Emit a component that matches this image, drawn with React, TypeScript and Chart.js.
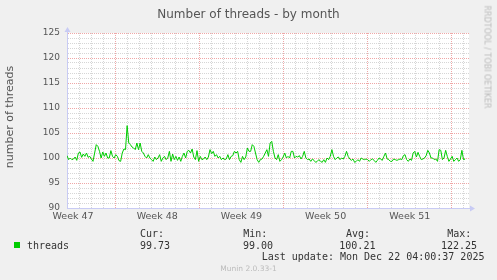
import React, { useEffect, useRef } from "react";
import { Chart, registerables } from "chart.js";

Chart.register(...registerables);

const TITLE = "Number of threads - by month";
const Y_TITLE = "number of threads";
const WATERMARK = "RRDTOOL / TOBI OETIKER";
const FOOTER = "Munin 2.0.33-1";
const LAST_UPDATE = "Last update: Mon Dec 22 04:00:37 2025";
const SERIES_NAME = "threads";

const WEEK_LABELS = ["Week 47", "Week 48", "Week 49", "Week 50", "Week 51"];
const WEEK_LABEL_DAYS = [0.5, 7.5, 14.5, 21.5, 28.5];
const WEEK_GRID_DAYS = [4, 11, 18, 25, 32];
const X_SPAN_DAYS = 33.42;
const DATA_SPAN_DAYS = 33.1;

const Y_MIN = 90;
const Y_MAX = 125;
const Y_MAJOR = 5;

const STAT_LABELS = ["Cur:", "Min:", "Avg:", "Max:"];
const STAT_VALUES = ["99.73", "99.00", "100.21", "122.25"];

// threads, sampled at a regular interval across the month
const threads = [
  100.47, 99.67, 100, 99.67, 99.8, 100.2, 99.53, 101, 101.2, 100.13,
  100.8, 100.33, 101, 100.13, 100.33, 99.8, 99.33, 101, 102.67, 102.33,
  101.33, 100, 101.2, 100.33, 101, 100, 100, 101.47, 100.33, 100,
  100.67, 100.33, 99.47, 99.33, 101, 101.8, 101.67, 106.47, 103, 102.67,
  102.2, 102, 101.67, 103, 101.67, 103, 101.33, 101, 100.33, 100,
  100.67, 100, 99.67, 99.33, 100.2, 99.67, 100, 100.67, 99.33, 100,
  100.33, 99.67, 100, 101.33, 99.33, 100.8, 99.67, 100.33, 99.53, 100.2,
  99.33, 100.33, 101, 100, 101.33, 101.53, 101, 101.8, 100.2, 99.67,
  101.47, 99.33, 100.33, 99.67, 99.8, 100.2, 99.67, 100.2, 101.67, 100.87,
  101.33, 100.33, 100.67, 100, 100.33, 99.67, 100, 99.67, 99.8, 100.67,
  99.67, 100.33, 100.47, 101.33, 101, 101.33, 99.67, 99.13, 100.33, 99.67,
  100.2, 102, 101.33,
  101.33, 102.67, 102.33, 101, 99.67, 99.13, 99.67, 99.8, 100.33, 101,
  101.67, 100.33, 103, 103.33, 101.33, 100, 99.67, 100.67, 99.33, 99.67,
  100.2, 101, 100, 100.33, 100, 101.33, 101.33, 100, 100.33, 100.2,
  100.47, 99.8, 100.33, 101.33, 100, 99.67, 99.8, 99.33, 99.8, 99.53,
  99.13, 99.33, 99.67, 99.33, 99.13, 99.67, 99.13, 100, 99.67, 100.33,
  101.67, 100.33, 99.67, 100, 100.2, 99.67, 100, 99.8, 100.33, 101.33,
  100.33, 99.8, 99.53, 99.8, 99.13, 99.33, 99.67, 99.33, 100, 99.8,
  99.67, 99.8, 99.67, 99.33, 99.67, 99.8, 99.53, 99.13, 99.53, 100,
  99.8, 99.53, 100.33, 101, 99.8, 99.67, 99.33, 99.33, 99.8, 99.67,
  99.53, 99.67, 99.8, 99.67, 100.47, 100.67, 99.67, 99.33, 99.8, 99.53,
  101, 101.33, 100.2, 101.13, 100.33, 99.67, 99.8, 100, 100.47, 101.53,
  101, 100, 100, 99.67, 99.8, 99.33, 101.67, 101.53, 99.67, 100,
  101.53, 100.33, 99.33, 99.8, 100.33, 99.33, 99.67, 100, 99.33, 99.67,
  101.53, 99.67, 99.8,
];

const MINOR_GRID = "rgba(200,200,200,0.75)";
const MAJOR_GRID = "rgba(235,145,145,0.8)";
const AXIS_COLOR = "#c8cbf4";
const LINE_COLOR = "#00cc00";
const TEXT_COLOR = "#555555";
const PLOT_BG = "#ffffff";
const PAGE_BG = "#f0f0f0";

const xTicks = [
  ...Array.from({ length: Math.floor(X_SPAN_DAYS) + 1 }, (_, d) => d),
  ...WEEK_LABEL_DAYS,
].sort((a, b) => a - b);
const yTicks = Array.from({ length: Y_MAX - Y_MIN + 1 }, (_, i) => Y_MIN + i);

const plotPlugin = {
  id: "rrdDecor",
  beforeDraw(chart: any) {
    const { ctx, chartArea } = chart;
    ctx.save();
    ctx.fillStyle = PLOT_BG;
    ctx.fillRect(chartArea.left, chartArea.top, chartArea.right - chartArea.left, chartArea.bottom - chartArea.top);
    ctx.restore();
  },
  afterDraw(chart: any) {
    const { ctx, chartArea } = chart;
    const l = chartArea.left;
    const b = chartArea.bottom;
    ctx.save();
    ctx.strokeStyle = AXIS_COLOR;
    ctx.fillStyle = AXIS_COLOR;
    ctx.lineWidth = 1;
    ctx.beginPath();
    ctx.moveTo(l + 0.5, chartArea.top);
    ctx.lineTo(l + 0.5, chartArea.top - 4);
    ctx.moveTo(chartArea.right, b + 0.5);
    ctx.lineTo(chartArea.right + 3, b + 0.5);
    ctx.stroke();
    ctx.beginPath();
    ctx.moveTo(l - 2.5, chartArea.top - 1);
    ctx.lineTo(l + 3.5, chartArea.top - 1);
    ctx.lineTo(l + 0.5, chartArea.top - 6);
    ctx.closePath();
    ctx.fill();
    ctx.beginPath();
    ctx.moveTo(chartArea.right + 1, b - 2.5);
    ctx.lineTo(chartArea.right + 1, b + 3.5);
    ctx.lineTo(chartArea.right + 6, b + 0.5);
    ctx.closePath();
    ctx.fill();
    ctx.restore();
  },
};

function ChartCanvas() {
  const ref = useRef<HTMLCanvasElement | null>(null);
  useEffect(() => {
    if (!ref.current) return;
    const dt = DATA_SPAN_DAYS / (threads.length - 1);
    const chart = new Chart(ref.current, {
      type: "line",
      data: {
        datasets: [
          {
            label: SERIES_NAME,
            data: threads.map((v, i) => ({ x: i * dt, y: v })),
            borderColor: LINE_COLOR,
            borderWidth: 1,
            pointRadius: 0,
            tension: 0,
            fill: false,
          },
        ],
      },
      options: {
        animation: false,
        responsive: false,
        events: [],
        layout: { padding: { left: 0, top: 33, right: 28, bottom: 0 } },
        plugins: { legend: { display: false }, tooltip: { enabled: false }, title: { display: false } },
        scales: {
          x: {
            type: "linear",
            min: 0,
            max: X_SPAN_DAYS,
            afterBuildTicks: (scale: any) => {
              scale.ticks = xTicks.map((v) => ({ value: v }));
            },
            afterFit: (scale: any) => {
              scale.height = 72;
            },
            ticks: {
              autoSkip: false,
              maxRotation: 0,
              padding: 3,
              color: TEXT_COLOR,
              font: { family: "'DejaVu Sans'", size: 9.5 },
              callback: (value: any) => {
                const idx = WEEK_LABEL_DAYS.indexOf(Number(value));
                return idx >= 0 ? WEEK_LABELS[idx] : "";
              },
            },
            grid: {
              drawTicks: false,
              lineWidth: 1,
              color: (ctx: any) => {
                const v = ctx.tick ? ctx.tick.value : 0;
                if (WEEK_LABEL_DAYS.includes(v)) return "rgba(0,0,0,0)";
                if (WEEK_GRID_DAYS.includes(v)) return MAJOR_GRID;
                return MINOR_GRID;
              },
            },
            border: { display: true, color: AXIS_COLOR, width: 1, dash: [1, 1] },
          },
          y: {
            type: "linear",
            min: Y_MIN,
            max: Y_MAX,
            afterBuildTicks: (scale: any) => {
              scale.ticks = yTicks.map((v) => ({ value: v }));
            },
            afterFit: (scale: any) => {
              scale.width = 67;
            },
            ticks: {
              autoSkip: false,
              padding: 7,
              color: TEXT_COLOR,
              font: { family: "'DejaVu Sans'", size: 9 },
              callback: (value: any) => (Number(value) % Y_MAJOR === 0 ? String(value) : ""),
            },
            grid: {
              drawTicks: false,
              lineWidth: 1,
              color: (ctx: any) => {
                const v = ctx.tick ? ctx.tick.value : 0;
                return v % Y_MAJOR === 0 ? MAJOR_GRID : MINOR_GRID;
              },
            },
            border: { display: true, color: AXIS_COLOR, width: 1, dash: [1, 1] },
          },
        },
      },
      plugins: [plotPlugin],
    } as any);
    return () => chart.destroy();
  }, []);
  return (
    <canvas
      ref={ref}
      width={497}
      height={280}
      style={{ position: "absolute", left: 0, top: 0, width: 497, height: 280 }}
    />
  );
}

const mono = "'DejaVu Sans Mono', monospace";
const sans = "'DejaVu Sans', sans-serif";

function Txt(props: { left: number; top: number; size: number; family: string; color: string; children: any; style?: any }) {
  return (
    <div
      style={{
        position: "absolute",
        left: props.left,
        top: props.top,
        fontSize: props.size,
        lineHeight: `${props.size}px`,
        fontFamily: props.family,
        color: props.color,
        whiteSpace: "pre",
        ...(props.style || {}),
      }}
    >
      {props.children}
    </div>
  );
}

const STAT_LABEL_LEFT = [140, 243.3, 346, 447.3];
const STAT_VALUE_LEFT = [140, 243, 339.3, 441];

export default function App() {
  return (
    <div
      style={{
        position: "absolute",
        left: 0,
        top: 0,
        width: 497,
        height: 280,
        background: PAGE_BG,
        overflow: "hidden",
      }}
    >
      <ChartCanvas />
      <div
        style={{
          position: "absolute",
          left: 0,
          top: 6,
          width: 497,
          textAlign: "center",
          fontFamily: sans,
          fontSize: 12,
          lineHeight: "16px",
          color: TEXT_COLOR,
        }}
      >
        {TITLE}
      </div>
      <div
        style={{
          position: "absolute",
          left: 10,
          top: 117,
          width: 0,
          height: 0,
        }}
      >
        <div
          style={{
            position: "absolute",
            left: 0,
            top: 0,
            transform: "translate(-50%, -50%) rotate(-90deg)",
            fontFamily: sans,
            fontSize: 11,
            lineHeight: "12px",
            color: TEXT_COLOR,
            whiteSpace: "pre",
          }}
        >
          {Y_TITLE}
        </div>
      </div>
      <div style={{ position: "absolute", left: 487, top: 57, width: 0, height: 0 }}>
        <div
          style={{
            position: "absolute",
            left: 0,
            top: 0,
            transform: "translate(-50%, -50%) rotate(90deg)",
            fontFamily: sans,
            fontSize: 8,
            lineHeight: "9px",
            color: "#bbbbbb",
            whiteSpace: "pre",
          }}
        >
          {WATERMARK}
        </div>
      </div>
      <div style={{ position: "absolute", left: 14, top: 242, width: 6, height: 6, background: LINE_COLOR }} />
      <Txt left={27} top={240.5} size={10} family={mono} color="#333">
        {SERIES_NAME}
      </Txt>
      {STAT_LABELS.map((s, i) => (
        <Txt key={s} left={STAT_LABEL_LEFT[i]} top={229} size={10} family={mono} color="#333">
          {s}
        </Txt>
      ))}
      {STAT_VALUES.map((s, i) => (
        <Txt key={"v" + i} left={STAT_VALUE_LEFT[i]} top={240.5} size={10} family={mono} color="#333">
          {s}
        </Txt>
      ))}
      <Txt left={261.7} top={252} size={10} family={mono} color="#333">
        {LAST_UPDATE}
      </Txt>
      <div
        style={{
          position: "absolute",
          left: 0,
          top: 265,
          width: 497,
          textAlign: "center",
          fontFamily: sans,
          fontSize: 7.5,
          lineHeight: "8px",
          color: "#bbbbbb",
        }}
      >
        {FOOTER}
      </div>
    </div>
  );
}
